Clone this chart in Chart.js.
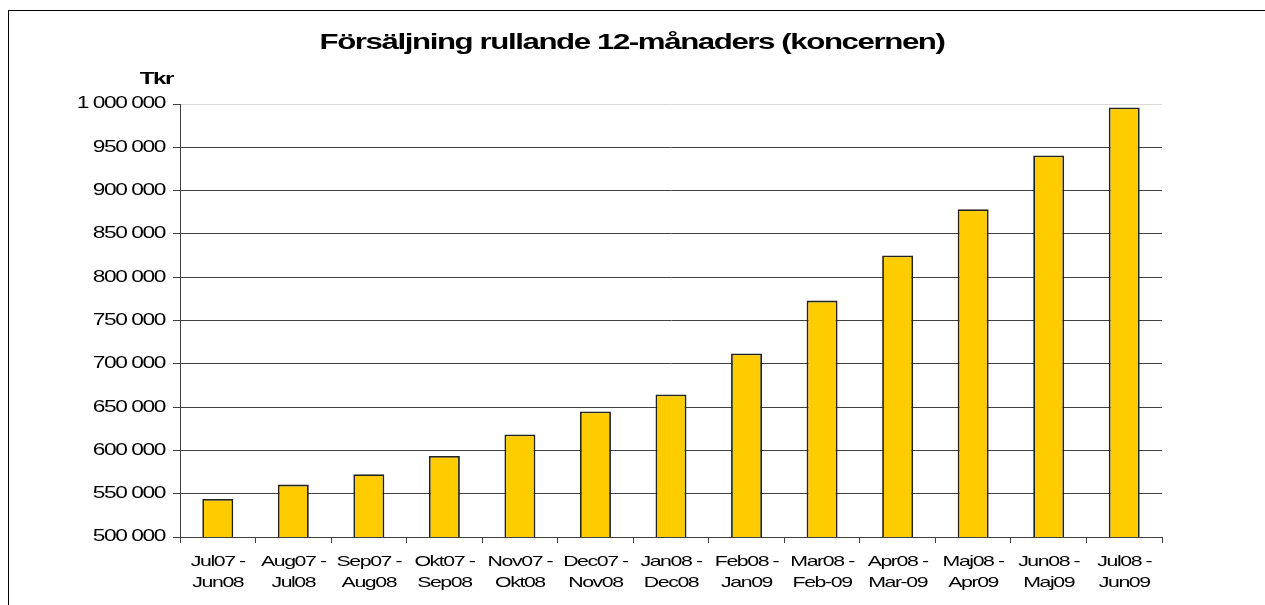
<!DOCTYPE html>
<html>
<head>
<meta charset="utf-8">
<script src="https://cdn.jsdelivr.net/npm/chart.js@4.4.1/dist/chart.umd.min.js"></script>
<style>
  html, body { margin: 0; padding: 0; background: #fff; overflow: hidden; }
  #wrap { position: relative; width: 1265px; height: 605px; }
  #frame {
    position: absolute; left: 8px; top: 10px; width: 1400px; height: 800px;
    border-left: 1px solid #000; border-top: 1px solid #000; pointer-events: none;
  }
  canvas { position: absolute; left: 0; top: 0; }
</style>
</head>
<body>
<div id="wrap">
  <canvas id="chart" width="1265" height="605"></canvas>
  <div id="frame"></div>
</div>
<script>
(function () {
  "use strict";

  // ── Data ───────────────────────────────────
  const CATEGORIES = [
    ["Jul07 -", "Jun08"], ["Aug07 -", "Jul08"], ["Sep07 -", "Aug08"],
    ["Okt07 -", "Sep08"], ["Nov07 -", "Okt08"], ["Dec07 -", "Nov08"],
    ["Jan08 -", "Dec08"], ["Feb08 -", "Jan09"], ["Mar08 -", "Feb-09"],
    ["Apr08 -", "Mar-09"], ["Maj08 -", "Apr09"], ["Jun08 -", "Maj09"],
    ["Jul08 -", "Jun09"]
  ];
  const SALES = [
    544000, 560500, 572500, 593500, 618500, 645000, 664500,
    712000, 773000, 825000, 878500, 940500, 996000
  ];
  const Y_MIN = 500000;
  const Y_MAX = 1000000;
  const Y_STEP = 50000;

  const TITLE = "Försäljning rullande 12-månaders (koncernen)";
  const UNIT = "Tkr";

  // the original export has wide, tightly tracked lettering
  const TEXT_STRETCH = 1.42;
  const TRACKING = "-1px";
  const FONT = "'Liberation Sans', Arial, sans-serif";

  // ── Helpers ────────────────────────────────
  function fmt(v) {
    return String(v).replace(/\B(?=(\d{3})+(?!\d))/g, " ");
  }

  const stretchText = {
    id: "stretchText",
    beforeInit(chart) {
      const ctx = chart.ctx;
      const fill = ctx.fillText.bind(ctx);
      const measure = ctx.measureText.bind(ctx);
      ctx.fillText = function (text, x, y) {
        ctx.save();
        ctx.letterSpacing = TRACKING;
        ctx.translate(x, y);
        ctx.scale(TEXT_STRETCH, 1);
        fill(text, 0, 0);
        ctx.restore();
      };
      ctx.measureText = function (text) {
        const prev = ctx.letterSpacing;
        ctx.letterSpacing = TRACKING;
        const m = measure(text);
        ctx.letterSpacing = prev;
        return {
          width: m.width * TEXT_STRETCH,
          actualBoundingBoxAscent: m.actualBoundingBoxAscent,
          actualBoundingBoxDescent: m.actualBoundingBoxDescent
        };
      };
    }
  };

  const headings = {
    id: "headings",
    afterDraw(chart) {
      const ctx = chart.ctx;
      ctx.save();
      ctx.fillStyle = "#000";
      ctx.textBaseline = "alphabetic";

      ctx.font = "bold 22px " + FONT;
      ctx.textAlign = "center";
      ctx.fillText(TITLE, 632, 49);

      ctx.font = "bold 17px " + FONT;
      ctx.textAlign = "right";
      ctx.fillText(UNIT, 173, 84);
      ctx.restore();
    }
  };

  new Chart(document.getElementById("chart"), {
    type: "bar",
    data: {
      labels: CATEGORIES,
      datasets: [{
        data: SALES,
        backgroundColor: "#FFCC00",
        borderColor: "#222",
        borderWidth: 1.8,
        borderSkipped: false,
        barPercentage: 0.41,
        categoryPercentage: 1
      }]
    },
    options: {
      responsive: false,
      animation: false,
      devicePixelRatio: 1,
      layout: { padding: { left: 0, right: 103, top: 104, bottom: 0 } },
      plugins: {
        legend: { display: false },
        tooltip: { enabled: false },
        title: { display: false }
      },
      scales: {
        x: {
          offset: true,
          grid: {
            drawOnChartArea: false,
            drawTicks: true,
            tickLength: 6,
            tickColor: "#404040",
            offset: true
          },
          border: { color: "#404040", width: 1 },
          ticks: {
            color: "#000",
            font: { family: FONT, size: 15, lineHeight: 1.4 },
            maxRotation: 0,
            autoSkip: false,
            padding: 8
          },
          afterFit(scale) { scale.height = 68; }
        },
        y: {
          min: Y_MIN,
          max: Y_MAX,
          ticks: {
            stepSize: Y_STEP,
            color: "#000",
            font: { family: FONT, size: 16 },
            padding: 8,
            callback: (v) => fmt(v)
          },
          grid: {
            color: (c) => (c.tick && c.tick.value === Y_MAX ? "#d8d8d8" : "#404040"),
            tickColor: "#404040",
            tickLength: 7,
            lineWidth: 1
          },
          border: { color: "#404040", width: 1 },
          afterFit(scale) { scale.width = 180; }
        }
      }
    },
    plugins: [stretchText, headings]
  });
})();
</script>
</body>
</html>
